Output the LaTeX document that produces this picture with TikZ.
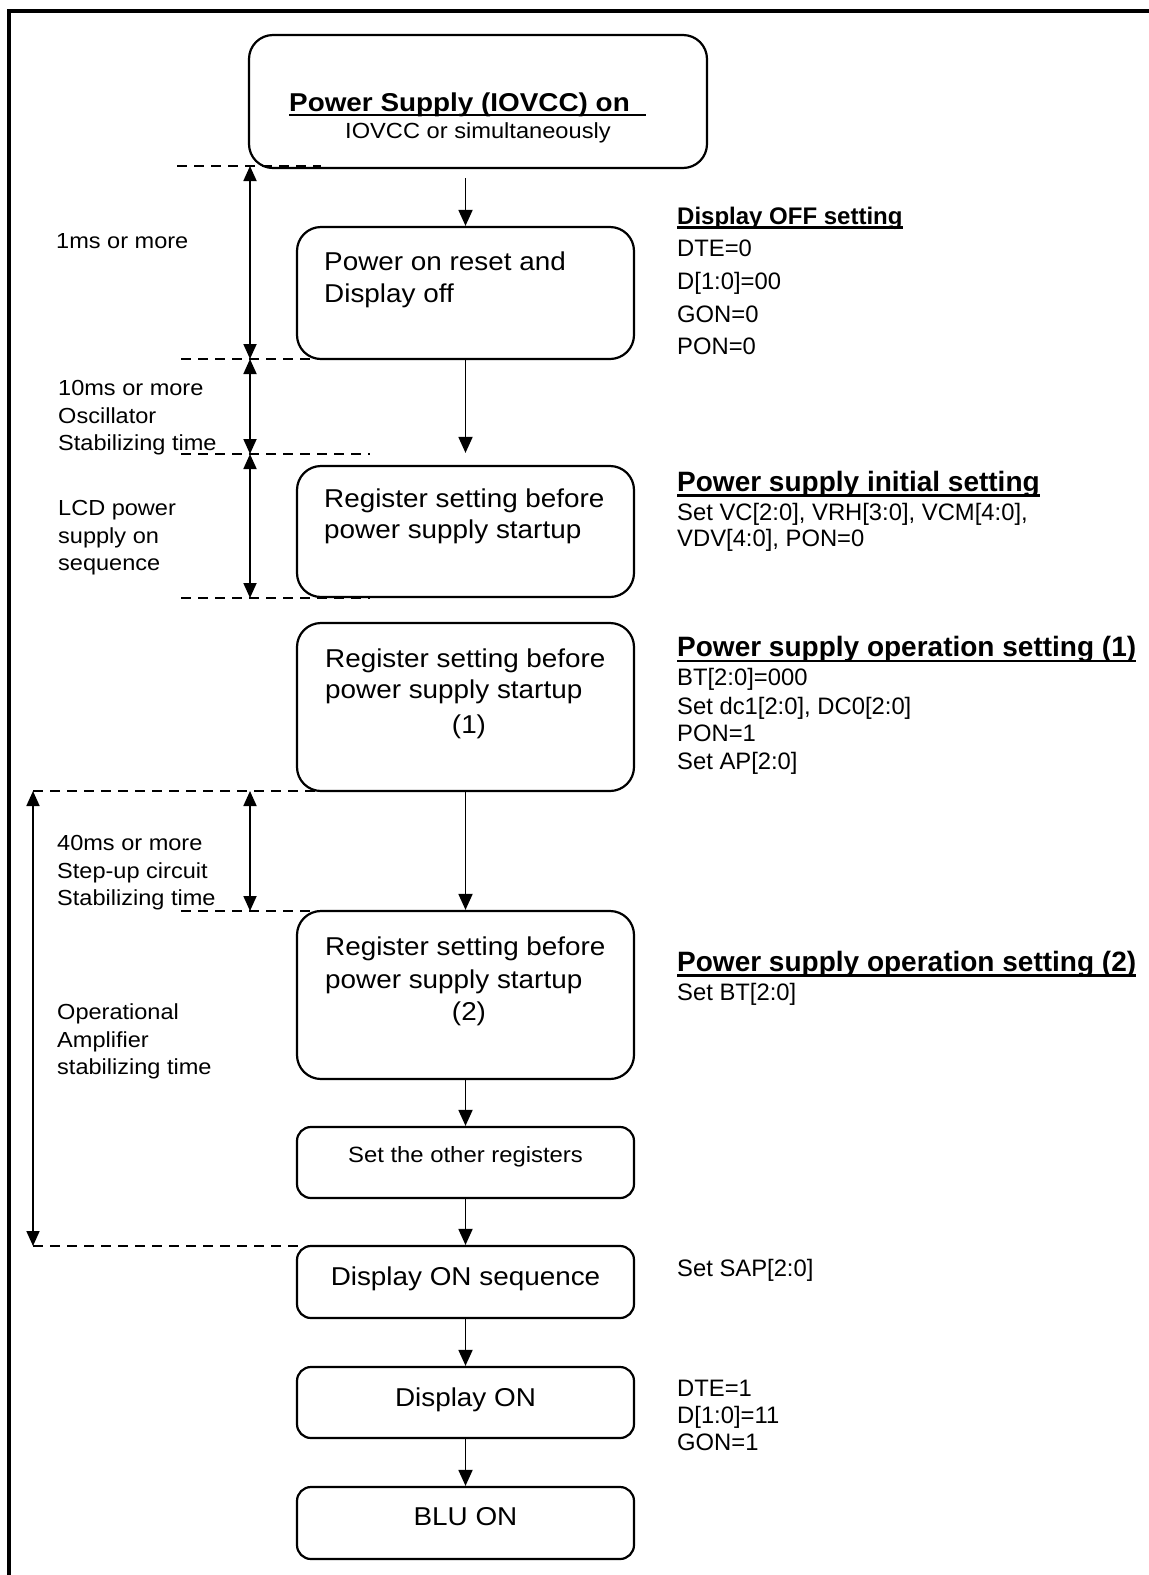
\documentclass[tikz,border=0pt]{standalone}
\usepackage{fontspec}
\setmainfont{Liberation Sans}
\newfontfamily\bxf{Liberation Sans}[FakeStretch=1.08]
\usetikzlibrary{arrows.meta}
\newcommand\szMain{\bxf\fontsize{25.8pt}{31pt}\selectfont}
\newcommand\szTitle{\bxf\bfseries\fontsize{25.8pt}{31pt}\selectfont}
\newcommand\szSub{\bxf\fontsize{21.9pt}{26pt}\selectfont}
\newcommand\szSmall{\bxf\fontsize{22.1pt}{26pt}\selectfont}
\newcommand\szLab{\bxf\fontsize{21.8pt}{26pt}\selectfont}
\newcommand\szRt{\fontsize{23.8pt}{28pt}\selectfont}
\newcommand\szHd{\bfseries\fontsize{28pt}{33pt}\selectfont}
\newcommand\szHdS{\bfseries\fontsize{24pt}{28pt}\selectfont}
\tikzset{
  flowbox/.style={draw, line width=2.2pt, rounded corners=24pt, inner sep=0pt, minimum width=337pt},
  smallbox/.style={flowbox, rounded corners=14pt},
  arr/.style={line width=1.8pt, -{Triangle[length=16pt,width=14pt]}},
  darr/.style={line width=1.8pt, {Triangle[length=15pt,width=13pt]}-{Triangle[length=15pt,width=13pt]}},
  dashln/.style={line width=1.6pt, dash pattern=on 10pt off 7pt},
  frameln/.style={line width=4pt},
  uline/.style={line width=2.4pt},
  txt/.style={inner sep=0pt, anchor=base west},
  ctxt/.style={inner sep=0pt, anchor=base},
}
\begin{document}
\begin{tikzpicture}[x=1pt,y=-1pt]
\useasboundingbox (0,0) rectangle (1149,1575);
\draw[frameln] (9,1575) -- (9,11) -- (1149,11);

% boxes
\node[flowbox, minimum width=458pt, minimum height=133pt] (b1) at (478,101.5) {};
\node[flowbox, minimum height=132pt] (b2) at (465.5,293) {};
\node[flowbox, minimum height=131pt] (b3) at (465.5,531.5) {};
\node[flowbox, minimum height=168pt] (b4) at (465.5,707) {};
\node[flowbox, minimum height=168pt] (b5) at (465.5,995) {};
\node[smallbox, minimum height=71pt] (b6) at (465.5,1162.5) {};
\node[smallbox, minimum height=72pt] (b7) at (465.5,1282) {};
\node[smallbox, minimum height=71pt] (b8) at (465.5,1402.5) {};
\node[smallbox, minimum height=72pt] (b9) at (465.5,1523) {};

% box texts
\node[txt, font=\szTitle] (t1a) at (289,111) {Power Supply (IOVCC) on};
\coordinate (t1u) at (646,115);
\draw[uline] ([yshift=-4pt]t1a.base west) -- (t1u);
\node[txt, font=\szSub] (t1b) at (345,138) {IOVCC or simultaneously};

\node[txt, font=\szMain] (t2a) at (324,270) {Power on reset and};
\node[txt, font=\szMain] (t2b) at (324,302) {Display off};

\node[txt, font=\szMain] (t3a) at (324,507) {Register setting before};
\node[txt, font=\szMain] (t3b) at (324,538) {power supply startup};

\node[txt, font=\szMain] (t4a) at (325,667) {Register setting before};
\node[txt, font=\szMain] (t4b) at (325,698) {power supply startup};
\node[ctxt, font=\szMain] (t4c) at (469,733) {(1)};

\node[txt, font=\szMain] (t5a) at (325,955) {Register setting before};
\node[txt, font=\szMain] (t5b) at (325,988) {power supply startup};
\node[ctxt, font=\szMain] (t5c) at (469,1020) {(2)};

\node[ctxt, font=\szSmall] (t6) at (465.5,1162) {Set the other registers};
\node[ctxt, font=\szMain] (t7) at (465.5,1285) {Display ON sequence};
\node[ctxt, font=\szMain] (t8) at (465.5,1406) {Display ON};
\node[ctxt, font=\szMain] (t9) at (465.5,1525) {BLU ON};

% flow arrows
\coordinate (a1s) at (465.5,178);
\draw[arr] (a1s) -- (b2.north);
\draw[arr] (b2.south) -- ([yshift=12pt]b3.north);
\draw[arr] (b4.south) -- (b5.north);
\draw[arr] (b5.south) -- (b6.north);
\draw[arr] (b6.south) -- (b7.north);
\draw[arr] (b7.south) -- (b8.north);
\draw[arr] (b8.south) -- (b9.north);

% dashed timing lines
\coordinate (d1l) at (177,166); \coordinate (d1r) at (321,166);
\coordinate (d2l) at (181,359); \coordinate (d2r) at (370,359);
\coordinate (d3l) at (181,454); \coordinate (d3r) at (370,454);
\coordinate (d4l) at (181,598); \coordinate (d4r) at (370,598);
\coordinate (d5l) at (33,791);  \coordinate (d5r) at (370,791);
\coordinate (d6l) at (181,911); \coordinate (d6r) at (370,911);
\coordinate (d7l) at (33,1246); \coordinate (d7r) at (303,1246);
\draw[dashln] (d1l) -- (d1r);
\draw[dashln] (d2l) -- (d2r);
\draw[dashln] (d3l) -- (d3r);
\draw[dashln] (d4l) -- (d4r);
\draw[dashln] (d5l) -- (d5r);
\draw[dashln] (d6l) -- (d6r);
\draw[dashln] (d7l) -- (d7r);

% timing arrows
\coordinate (m1) at (250,166);
\coordinate (m2) at (250,359);
\coordinate (m3) at (250,454);
\coordinate (m4) at (250,598);
\coordinate (m5) at (250,791);
\coordinate (m6) at (250,911);
\draw[darr] (m1) -- (m2);
\draw[darr] (m2) -- (m3);
\draw[darr] (m3) -- (m4);
\draw[darr] (m5) -- (m6);
\draw[darr] (d5l) -- (d7l);

% left labels
\node[txt, font=\szLab] (l1) at (56,248) {1ms or more};
\node[txt, font=\szLab] (l2a) at (58,395) {10ms or more};
\node[txt, font=\szLab] (l2b) at (58,423) {Oscillator};
\node[txt, font=\szLab] (l2c) at (58,450) {Stabilizing time};
\node[txt, font=\szLab] (l3a) at (58,515) {LCD power};
\node[txt, font=\szLab] (l3b) at (58,543) {supply on};
\node[txt, font=\szLab] (l3c) at (58,570) {sequence};
\node[txt, font=\szLab] (l4a) at (57,850) {40ms or more};
\node[txt, font=\szLab] (l4b) at (57,878) {Step-up circuit};
\node[txt, font=\szLab] (l4c) at (57,905) {Stabilizing time};
\node[txt, font=\szLab] (l5a) at (57,1019) {Operational};
\node[txt, font=\szLab] (l5b) at (57,1047) {Amplifier};
\node[txt, font=\szLab] (l5c) at (57,1074) {stabilizing time};

% right annotations
\node[txt, font=\szHdS] (h1) at (677,224) {Display OFF setting};
\draw[uline] ([yshift=-3.5pt]h1.base west) -- ([yshift=-3.5pt]h1.base east);
\node[txt, font=\szRt] (r1a) at (677,256) {DTE=0};
\node[txt, font=\szRt] (r1b) at (677,289) {D[1:0]=00};
\node[txt, font=\szRt] (r1c) at (677,322) {GON=0};
\node[txt, font=\szRt] (r1d) at (677,354) {PON=0};

\node[txt, font=\szHd] (h2) at (677,491) {Power supply initial setting};
\draw[uline] ([yshift=-4.5pt]h2.base west) -- ([yshift=-4.5pt]h2.base east);
\node[txt, font=\szRt] (r2a) at (677,520) {Set VC[2:0], VRH[3:0], VCM[4:0],};
\node[txt, font=\szRt] (r2b) at (677,546) {VDV[4:0], PON=0};

\node[txt, font=\szHd] (h3) at (677,656.5) {Power supply operation setting (1)};
\draw[uline] ([yshift=-4.5pt]h3.base west) -- ([yshift=-4.5pt]h3.base east);
\node[txt, font=\szRt] (r3a) at (677,685) {BT[2:0]=000};
\node[txt, font=\szRt] (r3b) at (677,714) {Set dc1[2:0], DC0[2:0]};
\node[txt, font=\szRt] (r3c) at (677,741) {PON=1};
\node[txt, font=\szRt] (r3d) at (677,769) {Set AP[2:0]};

\node[txt, font=\szHd] (h4) at (677,971) {Power supply operation setting (2)};
\draw[uline] ([yshift=-4.5pt]h4.base west) -- ([yshift=-4.5pt]h4.base east);
\node[txt, font=\szRt] (r4a) at (677,1000) {Set BT[2:0]};

\node[txt, font=\szRt] (r5) at (677,1276) {Set SAP[2:0]};

\node[txt, font=\szRt] (r6a) at (677,1396) {DTE=1};
\node[txt, font=\szRt] (r6b) at (677,1423) {D[1:0]=11};
\node[txt, font=\szRt] (r6c) at (677,1450) {GON=1};
\end{tikzpicture}
\end{document}
